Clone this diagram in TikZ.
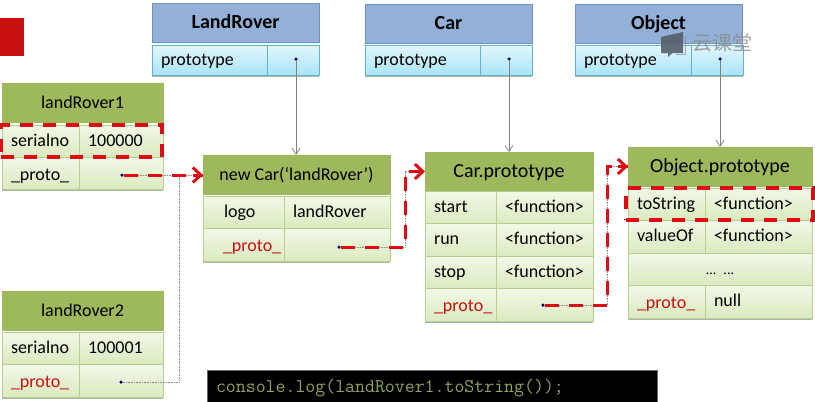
\documentclass[tikz,border=0pt]{standalone}
\usepackage{fontspec}
\setmainfont{Carlito}
\newfontfamily\cjkfont{Noto Sans CJK SC}
\usetikzlibrary{arrows.meta,shadows}
\definecolor{headgreen}{HTML}{9DB95B}
\definecolor{edgegreen}{HTML}{B9CF8C}
\definecolor{celltop}{HTML}{F2F8E8}
\definecolor{cellbottom}{HTML}{DAEABF}
\definecolor{headblue}{HTML}{93B0D8}
\definecolor{edgeblue}{HTML}{6E94C4}
\definecolor{edgecyan}{HTML}{62B4CE}
\definecolor{slottop}{HTML}{E2F6FC}
\definecolor{slotbottom}{HTML}{A9E4F6}
\definecolor{protored}{HTML}{C8100F}
\definecolor{dashred}{HTML}{DE0A14}
\definecolor{consolegreen}{HTML}{93A45C}
\definecolor{markgrey}{HTML}{555F6B}
\tikzset{
  every node/.style={anchor=north west, outer sep=0pt, font=\fontsize{18}{20}\selectfont},
  headbox/.style={draw=headgreen, fill=headgreen, minimum width=#1, minimum height=39pt, inner sep=0pt, text height=1.25em, text depth=.1em},
  classbox/.style={draw=edgeblue, fill=headblue, minimum width=#1, minimum height=39pt, inner sep=0pt, font=\fontsize{20}{22}\selectfont\bfseries, text height=1.25em, text depth=.1em},
  cellbox/.style={draw=edgegreen, top color=celltop, bottom color=cellbottom, text width=#1, inner xsep=9pt, inner ysep=0pt, minimum height=32.5pt, align=left, text height=1.05em, text depth=.1em},
  protokey/.style={text height=1.45em},
  slotbox/.style={draw=edgecyan, top color=slottop, bottom color=slotbottom, text width=#1, inner xsep=9pt, inner ysep=0pt, minimum height=30pt, align=left, text height=1.1em, text depth=.1em},
  shadowed/.style={drop shadow={shadow xshift=0pt, shadow yshift=-1.5pt, fill=black, opacity=.3}},
  dotmark/.style={circle, fill=black!40!blue!70!black, inner sep=0pt, minimum size=3.5pt, anchor=center},
  thinarrow/.style={draw=black!50, line width=.7pt, -{Straight Barb[length=6pt,width=8pt]}},
  greyline/.style={draw=black!45, line width=.6pt, densely dotted},
  redline/.style={draw=dashred, line width=3pt, dash pattern=on 14pt off 10pt},
  redarrow/.style={draw=dashred, line width=3pt, -{Straight Barb[length=8pt,width=15pt]}},
  redframe/.style={draw=dashred, line width=3.2pt, dash pattern=on 13pt off 10pt, fill=none, minimum height=32pt, inner sep=0pt},
}
\begin{document}
\begin{tikzpicture}[x=1pt,y=-1pt]
\useasboundingbox (0,0) rectangle (815,402);
\fill[protored] (0,18) rectangle (24,56);
% constructors
\node[classbox=167pt] (landrover) at (152,3) {LandRover};
\node[slotbox=97pt, shadowed] (landroverkey) at (152,45) {prototype};
\node[slotbox=34pt, shadowed] (landroverval) at (267,45) {};
\node[classbox=167pt] (car) at (365,4) {Car};
\node[slotbox=97pt, shadowed] (carkey) at (365,45) {prototype};
\node[slotbox=34pt, shadowed] (carval) at (480,45) {};
\node[classbox=167pt] (object) at (575,4) {Object};
\node[slotbox=98pt, shadowed] (objectkey) at (575,45) {prototype};
\node[slotbox=34pt, shadowed] (objectval) at (691,45) {};
% instances
\node[headbox=161pt] (rover1) at (2,83) {landRover1};
\node[cellbox=59pt] (rover1key) at (2,125) {serialno};
\node[cellbox=66pt] (rover1val) at (79,125) {100000};
\node[cellbox=59pt, shadowed, protokey] (rover1proto) at (2,157) {\_proto\_};
\node[cellbox=66pt, shadowed] (rover1link) at (79,157) {};
\node[headbox=161pt] (rover2) at (2,291) {landRover2};
\node[cellbox=59pt] (rover2key) at (2,332) {serialno};
\node[cellbox=66pt] (rover2val) at (79,332) {100001};
\node[cellbox=59pt, shadowed, protokey, text=protored] (rover2proto) at (2,364.5) {\_proto\_};
\node[cellbox=66pt, shadowed] (rover2link) at (79,364.5) {};
% new Car
\node[headbox=187pt] (newcar) at (203,155) {new Car(‘landRover’)};
\node[cellbox=63pt] (newcarkey) at (203,196) {\hspace*{12pt}logo};
\node[cellbox=88pt] (newcarval) at (284,196) {landRover};
\node[cellbox=63pt, shadowed, protokey, text=protored] (newcarproto) at (203,228.5) {\hspace*{11pt}\_proto\_};
\node[cellbox=88pt, shadowed] (newcarlink) at (284,228.5) {};
% Car.prototype
\node[headbox=168pt, font=\fontsize{20}{22}\selectfont] (carproto) at (425,152) {Car.prototype};
\node[cellbox=53pt] (startkey) at (425,191) {start};
\node[cellbox=79pt] (startval) at (496,191) {<function>};
\node[cellbox=53pt] (runkey) at (425,223.5) {run};
\node[cellbox=79pt] (runval) at (496,223.5) {<function>};
\node[cellbox=53pt] (stopkey) at (425,256) {stop};
\node[cellbox=79pt] (stopval) at (496,256) {<function>};
\node[cellbox=53pt, shadowed, protokey, text=protored] (carprotokey) at (425,288.5) {\_proto\_};
\node[cellbox=79pt, shadowed] (carprotolink) at (496,288.5) {};
% Object.prototype
\node[headbox=184pt, font=\fontsize{20}{22}\selectfont] (objproto) at (628,147) {Object.prototype};
\node[cellbox=59pt] (tostringkey) at (628,188) {toString};
\node[cellbox=89pt] (tostringval) at (705,188) {<function>};
\node[cellbox=59pt] (valueofkey) at (628,220.5) {valueOf};
\node[cellbox=89pt] (valueofval) at (705,220.5) {<function>};
\node[cellbox=166pt, align=center, font=\fontsize{14}{16}\selectfont] (moreval) at (628,253) {... ...};
\node[cellbox=59pt, shadowed, protokey, text=protored] (objprotokey) at (628,285.5) {\_proto\_};
\node[cellbox=89pt, shadowed] (objprotoval) at (705,285.5) {null};
% pointers
\node[dotmark] (landroverdot) at (296,59) {};
\node[dotmark] (cardot) at (509,59) {};
\node[dotmark] (objectdot) at (720,59) {};
\node[dotmark] (rover1dot) at (122,175) {};
\node[dotmark] (rover2dot) at (121,382) {};
\node[dotmark] (newcardot) at (339,247) {};
\node[dotmark] (carprotodot) at (543,305) {};
\coordinate (bendrover) at (179,175);
\coordinate (bendnew) at (405,247);
\coordinate (bendcar) at (607,305);
\draw[thinarrow] (landroverdot) -- (landroverdot |- newcar.north);
\draw[thinarrow] (cardot) -- (cardot |- carproto.north);
\draw[thinarrow] (objectdot) -- (objectdot |- objproto.north);
\draw[greyline] (rover2dot) -| (bendrover);
\draw[greyline] (rover1dot) -- (rover1dot -| newcar.west);
\draw[greyline] (newcardot) -- (bendnew) |- (carproto.west);
\draw[greyline] (carprotodot) -- (bendcar) |- (objproto.west);
% highlighted path
\draw[redline] (rover1dot) -- (rover1dot -| newcar.west);
\draw[redline] (newcardot) -- (bendnew) |- (carproto.west);
\draw[redline] (carprotodot) -- (bendcar) |- (objproto.west);
\draw[redarrow] ([xshift=-10pt]rover1dot -| newcar.west) -- (rover1dot -| newcar.west);
\draw[redarrow] ([xshift=-10pt]carproto.west) -- (carproto.west);
\draw[redarrow] ([xshift=-10pt]objproto.west) -- (objproto.west);
\node[redframe, minimum width=161pt] (rover1frame) at (1,125) {};
\node[redframe, minimum width=187pt] (tostringframe) at (626,188) {};
% console line
\node[fill=black, draw=black!60, text width=432pt, inner xsep=9pt, inner ysep=0pt, minimum height=34pt, align=left, text=consolegreen, text height=1.2em, text depth=.1em, font=\ttfamily\fontsize{19.3}{21}\selectfont] (console) at (207,370) {console.log(landRover1.toString());};
% watermark
\fill[markgrey, opacity=.9] (661,37) -- (683,32) -- (683,53) -- (672,53) -- (668,57) -- (668,53) -- (661,53) -- cycle;
\draw[black!50, opacity=.6] (685,36) -- (685,54) -- (676,54);
\node[text=black!45, opacity=.8, font=\cjkfont\fontsize{20}{22}\selectfont, inner sep=0pt] (watermark) at (692,34) {云课堂};
\end{tikzpicture}
\end{document}
